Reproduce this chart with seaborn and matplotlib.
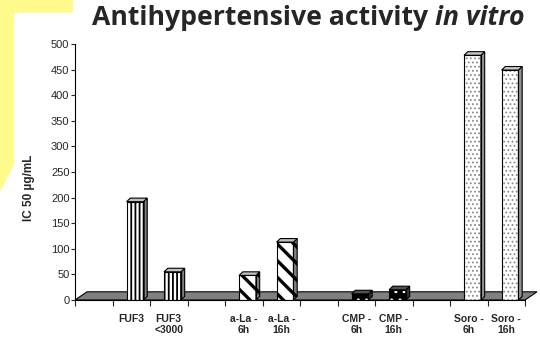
import matplotlib
matplotlib.use("Agg")
import matplotlib.pyplot as plt
import seaborn as sns
import pandas as pd
import numpy as np
from matplotlib.patches import Polygon, Rectangle

# ---- data ----
slots = ["", "FUF3", "FUF3\n<3000", " ", "a-La -\n6h", "a-La -\n16h", "  ",
         "CMP -\n6h", "CMP -\n16h", "   ", "Soro -\n6h", "Soro -\n16h"]
samples = ["FUF3", "FUF3\n<3000", "a-La -\n6h", "a-La -\n16h",
           "CMP -\n6h", "CMP -\n16h", "Soro -\n6h", "Soro -\n16h"]
ic50 = [192, 55, 48, 113, 12, 20, 478, 449]
yticks = list(range(0, 501, 50))

# styles per sample: (face, hatchcolor, hatch, hatch lw, sideface, topface)
styles = {
    "FUF3": ("white", "black", "||||", 1.3, "#808080", "#c0c0c0"),
    "FUF3\n<3000": ("white", "black", "||||", 1.3, "#808080", "#c0c0c0"),
    "a-La -\n6h": ("white", "black", "\\\\", 2.4, "#808080", "#c0c0c0"),
    "a-La -\n16h": ("white", "black", "\\\\", 2.4, "#808080", "#c0c0c0"),
    "CMP -\n6h": ("black", "white", "..", 1.0, "#303030", "#505050"),
    "CMP -\n16h": ("black", "white", "..", 1.0, "#303030", "#505050"),
    "Soro -\n6h": ("white", "#8a8a8a", "....", 0.8, "#909090", "#c8c8c8"),
    "Soro -\n16h": ("white", "#8a8a8a", "....", 0.8, "#909090", "#c8c8c8"),
}

df = pd.DataFrame({"sample": samples, "ic50": ic50})

sns.set_style("white")
plt.rcParams["hatch.linewidth"] = 1.3
plt.rcParams["font.family"] = ["Liberation Sans", "DejaVu Sans"]

fig = plt.figure(figsize=(5.4, 3.5), dpi=100)
W, H = 540, 350
ax = fig.add_axes([75 / W, 1 - 300 / H, (525 - 75) / W, (300 - 44) / H])

# yellow page decoration
yel = Polygon([(0, 1), (73 / W, 1), (73 / W, 1 - 13 / H), (14 / W, 1 - 13 / H),
               (14 / W, 1 - 165 / H), (0, 1 - 192 / H)],
              closed=True, transform=fig.transFigure, facecolor="#fffa8c",
              edgecolor="none", zorder=0)
fig.add_artist(yel)

sns.barplot(data=df, x="sample", y="ic50", order=slots, width=0.45,
            ax=ax, zorder=3)

ax.set_xlim(-0.5, len(slots) - 0.5)
ax.set_ylim(0, 500)

dx, dy = 0.1, 7.0
shift = 0.1

# floor
floor = Polygon([(-0.5, 0), (len(slots) - 0.5, 0),
                 (len(slots) - 0.5 + 0.32, 16), (-0.5 + 0.32, 16)],
                closed=True, facecolor="#808080", edgecolor="black",
                linewidth=0.8, zorder=1, clip_on=False)
ax.add_patch(floor)


def set_hlw(patch, lw):
    if hasattr(patch, "set_hatch_linewidth"):
        try:
            patch.set_hatch_linewidth(lw)
        except Exception:
            pass


bars = [p for p in ax.patches if isinstance(p, Rectangle)]
for p in bars:
    xc = p.get_x() + p.get_width() / 2
    idx = int(round(xc))
    name = slots[idx]
    if name not in styles:
        continue
    face, hc, hatch, hlw, side, top = styles[name]
    p.set_x(p.get_x() + shift)
    x0 = p.get_x()
    x1 = x0 + p.get_width()
    h = p.get_height()
    p.set_facecolor(face)
    p.set_edgecolor(hc)
    p.set_hatch(hatch)
    set_hlw(p, hlw)
    p.set_linewidth(0)
    p.set_zorder(3)
    ax.add_patch(Rectangle((x0, 0), x1 - x0, h, fill=False, edgecolor="black",
                           linewidth=0.8, zorder=4))
    sidep = Polygon([(x1, 0), (x1 + dx, dy), (x1 + dx, h + dy), (x1, h)],
                    closed=True, facecolor=side, edgecolor="black",
                    linewidth=0.8, zorder=3,
                    hatch=hatch if (face == "white" and hc == "black") else None)
    set_hlw(sidep, hlw)
    ax.add_patch(sidep)
    topp = Polygon([(x0, h), (x1, h), (x1 + dx, h + dy), (x0 + dx, h + dy)],
                   closed=True, facecolor=top, edgecolor="black",
                   linewidth=0.8, zorder=3)
    ax.add_patch(topp)

# axes styling
for s in ["top", "right"]:
    ax.spines[s].set_visible(False)
for s in ["left", "bottom"]:
    ax.spines[s].set_linewidth(0.8)
    ax.spines[s].set_color("black")
    ax.spines[s].set_zorder(5)

ax.set_yticks(yticks)
ax.set_yticklabels([str(v) for v in yticks], fontsize=8)
ax.tick_params(axis="y", direction="out", length=3, width=0.8, pad=1, left=True)

ax.set_xticks(range(len(slots)))
ax.set_xticklabels([s.strip() for s in slots], fontsize=7.5, fontweight="bold")
ax.tick_params(axis="x", which="major", length=0, pad=10)
ax.set_xticks(np.arange(-0.5, len(slots), 1.0), minor=True)
ax.tick_params(axis="x", which="minor", direction="out", length=4, width=0.8,
               bottom=True)
ax.set_xlabel("")
ax.set_ylabel("IC 50 \u00b5g/mL", fontsize=8.5, fontweight="bold")
ax.yaxis.set_label_coords(-0.089, 0.44)

# title: fit to the reference width (x 92..525 px)
tfont = ["Open Sans", "DejaVu Sans"]
fs = 18
ty = 1 - 18 / H
t1 = fig.text(92 / W, ty, "Antihypertensive activity ", fontsize=fs,
              fontweight="bold", family=tfont, ha="left", va="center")
t2 = fig.text(0, ty, "in vitro", fontsize=fs, fontweight="bold",
              style="italic", family=tfont, ha="left", va="center")
fig.canvas.draw()
r = fig.canvas.get_renderer()
w = t1.get_window_extent(r).width + t2.get_window_extent(r).width
fs = fs * 433 / w
t1.set_fontsize(fs)
t2.set_fontsize(fs)
fig.canvas.draw()
bb = t1.get_window_extent(r)
t2.set_x(bb.x1 / W)

fig.savefig("out.png", dpi=100)
